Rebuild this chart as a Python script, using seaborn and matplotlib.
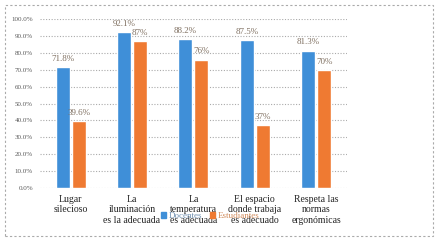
import matplotlib
matplotlib.use("Agg")
import matplotlib.pyplot as plt
import matplotlib.patches as mpatches
import seaborn as sns
import pandas as pd

categories = ["Lugar\nsilecioso", "La\niluminación\nes la adecuada", "La\ntemperatura\nes adecuada",
              "El espacio\ndonde trabaja\nes adecuado", "Respeta las\nnormas\nergonómicas"]
docentes = [71.8, 92.1, 88.2, 87.5, 81.3]
estudiantes = [39.6, 87, 76, 37, 70]
docentes_labels = ["71.8%", "92.1%", "88.2%", "87.5%", "81.3%"]
estudiantes_labels = ["39.6%", "87%", "76%", "37%", "70%"]
series = ["Docentes", "Estudiantes"]
yticks = [0, 10, 20, 30, 40, 50, 60, 70, 80, 90, 100]

df = pd.DataFrame({
    "cat": categories * 2,
    "val": docentes + estudiantes,
    "serie": [series[0]] * 5 + [series[1]] * 5,
})

sns.set_style("white")
plt.rcParams["font.family"] = ["Liberation Serif", "DejaVu Serif"]

fig = plt.figure(figsize=(4.38, 2.41), dpi=100)
ax = fig.add_axes([0.091, 0.22, 0.701, 0.701])

palette = {"Docentes": "#3f8fd8", "Estudiantes": "#ef7a32"}
sns.barplot(data=df, x="cat", y="val", hue="serie", palette=palette, ax=ax,
            width=0.52, gap=0.12, saturation=1, legend=False)

for cont, labs in zip(ax.containers, [docentes_labels, estudiantes_labels]):
    ax.bar_label(cont, labels=labs, padding=3, fontsize=6.5, color="#7f6f60")

ax.set_ylim(0, 100)
ax.set_xlim(-0.5, 4.5)
ax.set_yticks(yticks)
ax.set_yticklabels([f"{v:.1f}%" for v in yticks], fontsize=5, color="#595959")
ax.tick_params(axis="x", labelsize=7, colors="#222222", length=0, pad=5)
ax.tick_params(axis="y", length=0, pad=5)
ax.yaxis.grid(True, linestyle=(0, (1, 1.5)), color="#aaaaaa", linewidth=0.8)
ax.set_axisbelow(True)
for s in ax.spines.values():
    s.set_visible(False)
ax.set_xlabel("")
ax.set_ylabel("")

handles = [mpatches.Patch(color=palette[s], label=s) for s in series]
leg = fig.legend(handles=handles, loc="center", bbox_to_anchor=(0.48, 0.104), ncol=2,
                 frameon=False, fontsize=6.5, handlelength=0.6, handleheight=0.6,
                 columnspacing=0.8, handletextpad=0.3)
for t, c in zip(leg.get_texts(), ["#6f8fb0", "#d08a5a"]):
    t.set_color(c)

border = mpatches.Rectangle((0.012, 0.02), 0.976, 0.96, transform=fig.transFigure,
                            fill=False, edgecolor="#aaaaaa", linestyle=(0, (2, 2)), linewidth=0.8)
fig.patches.append(border)

fig.savefig("out.png", dpi=100)
